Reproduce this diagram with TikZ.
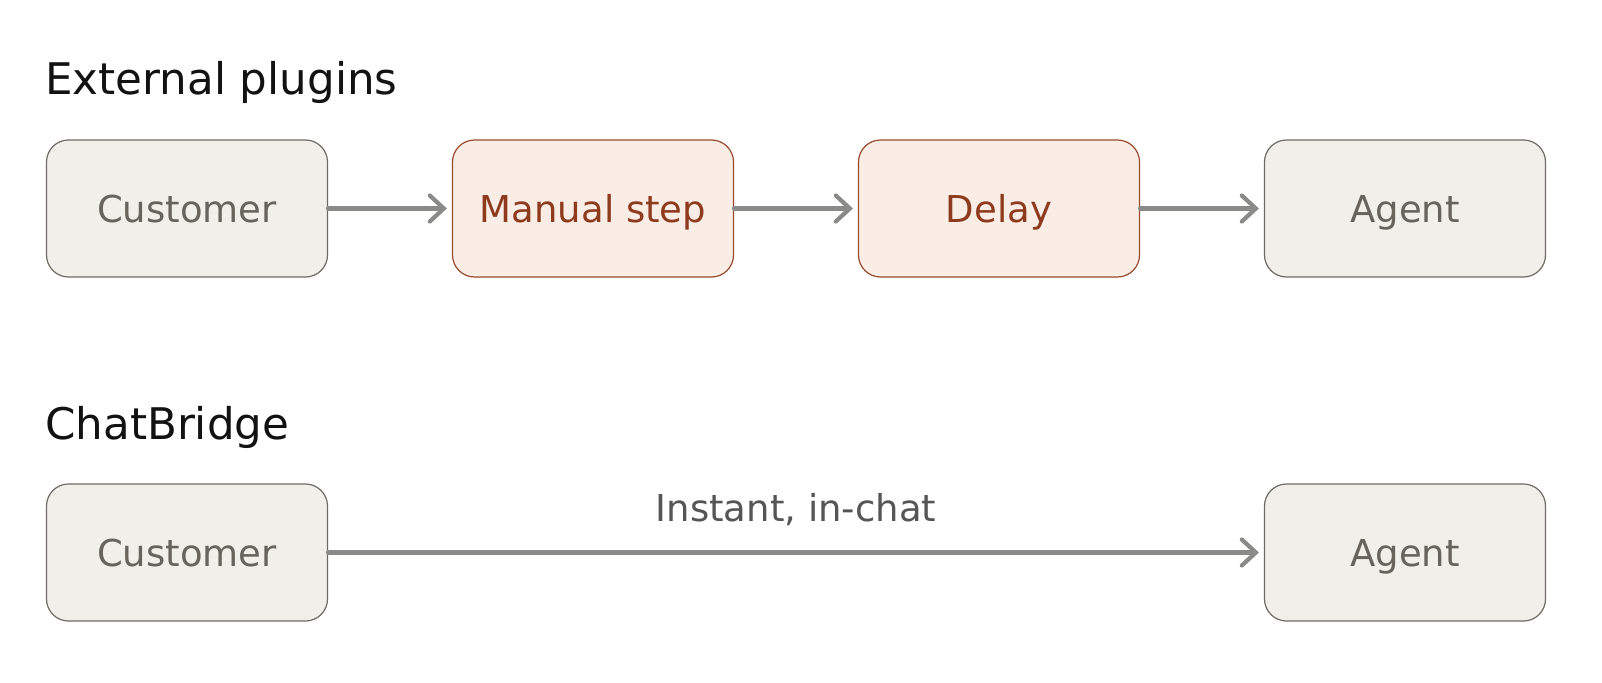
\documentclass[tikz,border=0pt]{standalone}
\usepackage{fontspec}
\setmainfont{DejaVu Sans}
\usetikzlibrary{arrows.meta}
\definecolor{greyfill}{HTML}{F1EFEA}
\definecolor{greyline}{HTML}{6E6A64}
\definecolor{greytext}{HTML}{67635D}
\definecolor{peachfill}{HTML}{FAEDE6}
\definecolor{peachline}{HTML}{9A4A2C}
\definecolor{peachtext}{HTML}{8E3A1C}
\definecolor{arrowgrey}{HTML}{8A8A88}
\definecolor{labeltext}{HTML}{555555}
\tikzset{
  box/.style={rounded corners=22pt, minimum width=281pt, minimum height=137pt,
    line width=1.2pt, inner sep=0pt, text height=27.5pt, text depth=0pt,
    font=\fontsize{37}{44}\selectfont},
  neutralbox/.style={box, draw=greyline, fill=greyfill, text=greytext},
  hotbox/.style={box, draw=peachline, fill=peachfill, text=peachtext},
  flow/.style={draw=arrowgrey, line width=4.2pt, line cap=round,
    -{Straight Barb[length=14pt,width=26pt,line cap=round]}, shorten >=5pt},
  heading/.style={anchor=base west, inner sep=0pt, text=black!93,
    font=\fontsize{43.6}{50}\selectfont},
  flowlabel/.style={anchor=base, inner sep=0pt, text=labeltext,
    font=\fontsize{37}{44}\selectfont}
}
\begin{document}
\begin{tikzpicture}[x=1pt,y=-1pt]
\useasboundingbox (0,0) rectangle (1602,682);
\node[heading] (t1) at (45,95) {External plugins};
\node[heading] (t2) at (45,439) {ChatBridge};

\node[neutralbox] (c1) at (187,208.5) {Customer};
\node[hotbox] (m1) at (593,208.5) {Manual step};
\node[hotbox] (d1) at (999,208.5) {Delay};
\node[neutralbox] (a1) at (1405,208.5) {Agent};

\draw[flow] (c1) -- (m1);
\draw[flow] (m1) -- (d1);
\draw[flow] (d1) -- (a1);

\node[neutralbox] (c2) at (187,552.5) {Customer};
\node[neutralbox] (a2) at (1405,552.5) {Agent};
\draw[flow] (c2) -- node[flowlabel, yshift=31pt] (lbl) {Instant, in-chat} (a2);
\end{tikzpicture}
\end{document}
